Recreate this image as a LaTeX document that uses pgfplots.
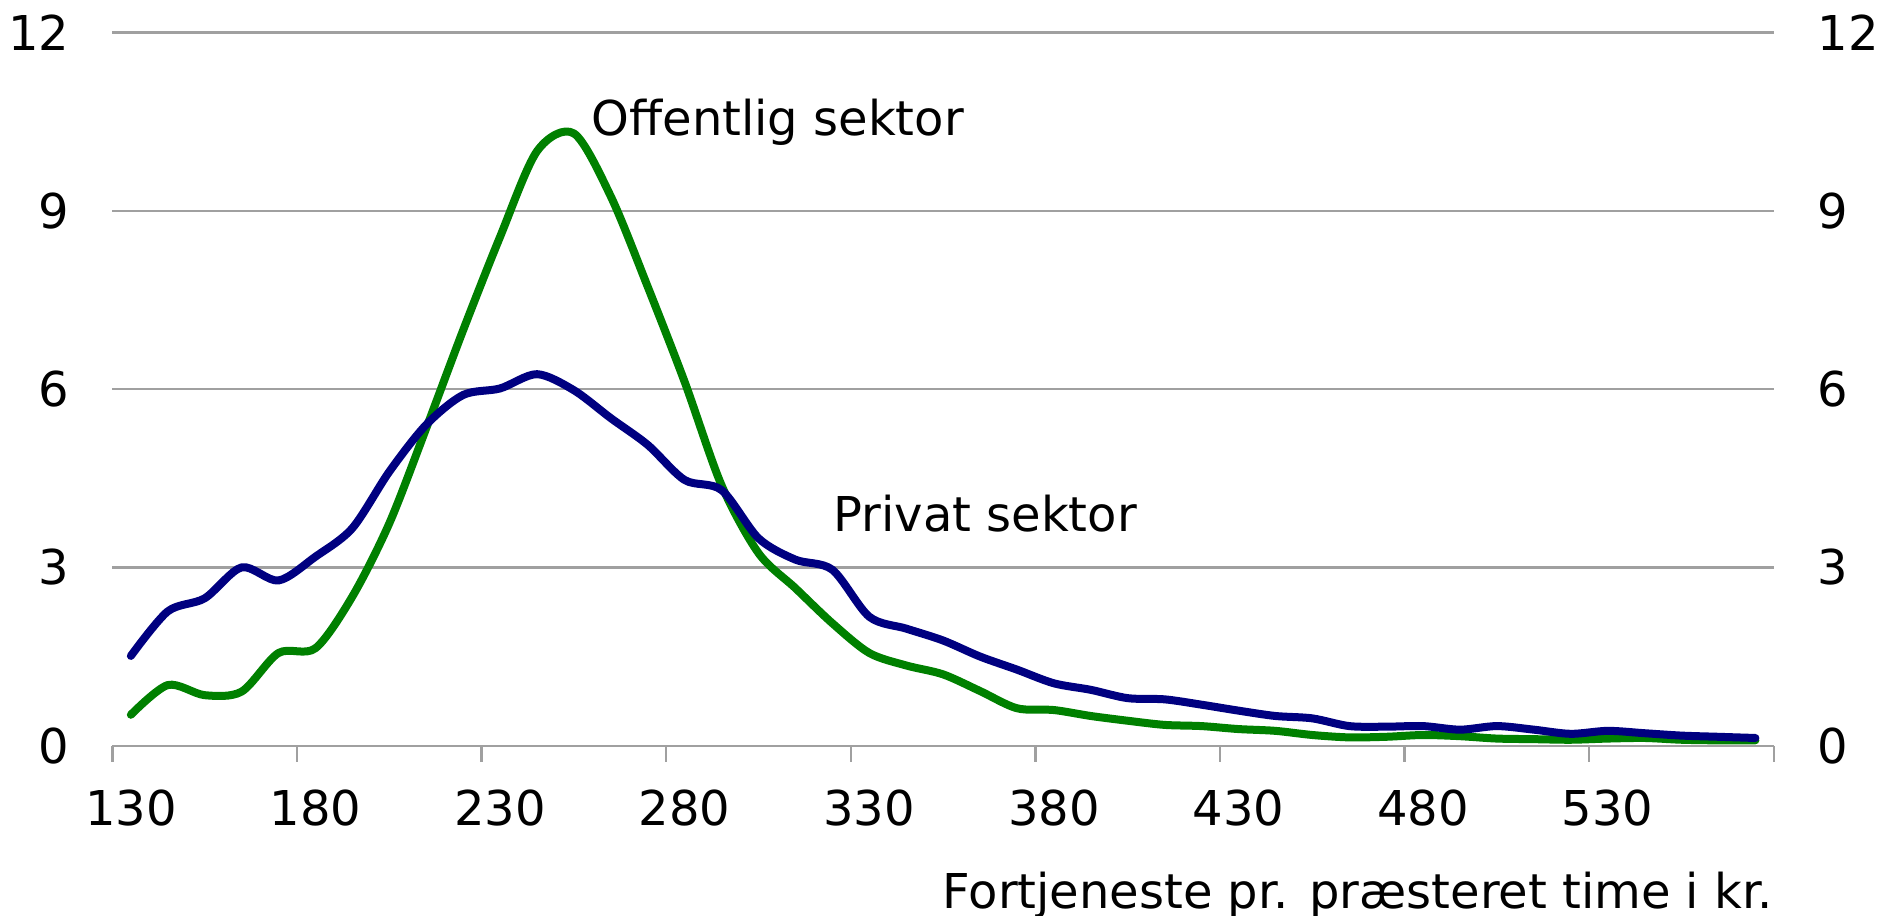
\documentclass[border=0pt]{standalone}
\usepackage{fontspec}
\setmainfont{DejaVu Sans}
\usepackage{pgfplots}
\pgfplotsset{compat=1.18}
\definecolor{privat}{RGB}{0,0,128}
\definecolor{offentlig}{RGB}{0,128,0}
\definecolor{gridgray}{RGB}{160,160,160}
\pgfplotsset{
  common/.style={
    at={(0pt,0pt)}, anchor=south west,
    scale only axis, width=415.4pt, height=178.35pt,
    xmin=125, xmax=575, ymin=0, ymax=12,
    ytick={0,3,6,9,12},
    major tick length=0pt,
    /pgf/number format/assume math mode=true,
    ticklabel style={font=\fontsize{12}{14}\selectfont, inner sep=0pt},
  }
}
\begin{document}
\begin{tikzpicture}
\useasboundingbox (-28.1pt,-42.55pt) rectangle (442.7pt,186.45pt);
\begin{axis}[
  common,
  axis x line*=bottom, axis y line*=left,
  x axis line style={draw=gridgray, line width=0.6pt, -},
  y axis line style={draw=none},
  ymajorgrids, grid style={gridgray, line width=0.6pt},
  xtick={130,180,...,530},
  extra x ticks={125,175,...,575},
  extra x tick labels={,,,,,,,,,},
  extra x tick style={major tick length=4pt, xtick align=outside, tick style={gridgray, line width=0.6pt}, grid=none},
  xticklabel style={anchor=center, yshift=-15.6pt},
  yticklabel style={anchor=east, xshift=-10.6pt},
  clip=false,
]
\addplot[offentlig, line width=2pt, smooth, tension=0.5, line cap=round, line join=round] coordinates {
(130,0.52) (140,1.02) (150,0.85) (160,0.91) (170,1.56) (180,1.64) (190,2.51) (200,3.74)
(210,5.34) (220,6.99) (230,8.56) (240,10.00) (250,10.30) (260,9.24) (270,7.72) (280,6.12)
(290,4.38) (300,3.24) (310,2.65) (320,2.06) (330,1.56) (340,1.35) (350,1.20) (360,0.92)
(370,0.63) (380,0.60) (390,0.50) (400,0.42) (410,0.35) (420,0.33) (430,0.28) (440,0.25)
(450,0.18) (460,0.14) (470,0.15) (480,0.18) (490,0.16) (500,0.12) (510,0.11) (520,0.10)
(530,0.12) (540,0.13) (550,0.10) (560,0.09) (570,0.09)
};
\addplot[privat, line width=2pt, smooth, tension=0.5, line cap=round, line join=round] coordinates {
(130,1.51) (140,2.26) (150,2.48) (160,3.00) (170,2.78) (180,3.18) (190,3.66) (200,4.61)
(210,5.40) (220,5.90) (230,6.01) (240,6.25) (250,5.98) (260,5.51) (270,5.06) (280,4.47)
(290,4.30) (300,3.49) (310,3.13) (320,2.96) (330,2.17) (340,1.97) (350,1.77) (360,1.50)
(370,1.28) (380,1.05) (390,0.94) (400,0.80) (410,0.78) (420,0.69) (430,0.59) (440,0.50)
(450,0.46) (460,0.33) (470,0.32) (480,0.33) (490,0.27) (500,0.33) (510,0.27) (520,0.20)
(530,0.25) (540,0.21) (550,0.17) (560,0.15) (570,0.13)
};
\node[anchor=west, inner sep=0pt, font=\fontsize{12}{14}\selectfont] at (axis cs:254.6,10.48) {Offentlig sektor};
\node[anchor=west, inner sep=0pt, font=\fontsize{12}{14}\selectfont] at (axis cs:320.1,3.90) {Privat sektor};
\node[anchor=east, inner sep=0pt, font=\fontsize{12}{14}\selectfont, yshift=-37.5pt] at (rel axis cs:1,0) {Fortjeneste pr. præsteret time i kr.};
\end{axis}
\begin{axis}[
  common,
  axis x line=none, axis y line*=right,
  y axis line style={draw=none},
  yticklabel style={anchor=west, xshift=10.75pt},
]
\end{axis}
\end{tikzpicture}
\end{document}
